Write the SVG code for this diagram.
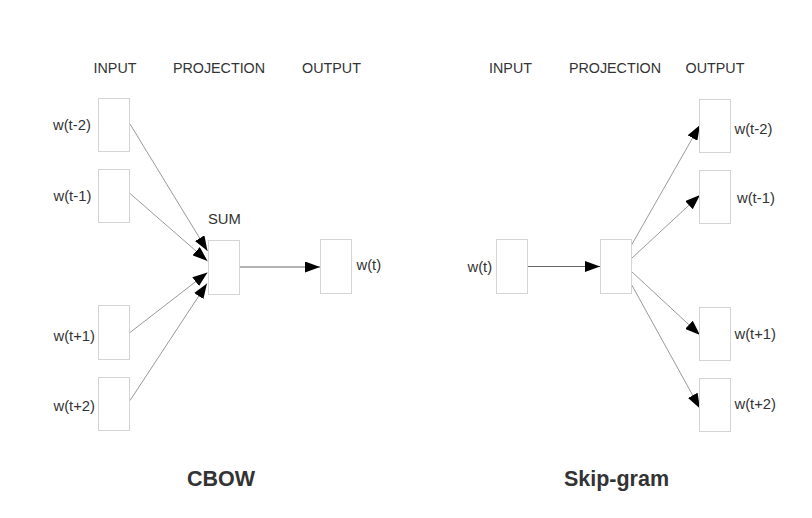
<svg xmlns="http://www.w3.org/2000/svg" width="812" height="518" viewBox="0 0 812 518">
<defs>
<marker id="ah" markerUnits="userSpaceOnUse" markerWidth="15" markerHeight="11" refX="15" refY="5.5" orient="auto">
<path d="M0,0 L15,5.5 L0,11 Z" fill="#000"/>
</marker>
<style>
.box{fill:#fff;stroke:#d4d4d4;stroke-width:1}
.lbl{font-family:"Liberation Sans",Arial,sans-serif;font-size:14.8px;fill:#333}
.hdr{font-family:"Liberation Sans",Arial,sans-serif;font-size:14.3px;fill:#333;text-anchor:middle}
.ttl{font-family:"Liberation Sans",Arial,sans-serif;font-size:21.5px;font-weight:bold;fill:#333;text-anchor:middle}
.diag{stroke:#9a9a9a;stroke-width:1;fill:none;marker-end:url(#ah)}
.hor{stroke:#666;stroke-width:1;fill:none;marker-end:url(#ah)}
</style>
</defs>
<rect width="812" height="518" fill="#fff"/>
<g id="headers">
<text class="hdr" x="115" y="72.5">INPUT</text>
<text class="hdr" x="219" y="72.5">PROJECTION</text>
<text class="hdr" x="331.5" y="72.5">OUTPUT</text>
<text class="hdr" x="510.5" y="72.5">INPUT</text>
<text class="hdr" x="615" y="72.5">PROJECTION</text>
<text class="hdr" x="715" y="72.5">OUTPUT</text>
</g>
<g id="connectors">
<line class="diag" x1="130" y1="124" x2="207.5" y2="251"/>
<line class="diag" x1="130" y1="193.5" x2="207.5" y2="261"/>
<line class="diag" x1="130" y1="332.5" x2="207.5" y2="272.5"/>
<line class="diag" x1="130" y1="400.5" x2="207" y2="283.5"/>
<line class="hor" x1="240" y1="267" x2="320" y2="267"/>
<line class="hor" x1="527" y1="266.5" x2="600" y2="266.5"/>
<line class="diag" x1="631.5" y1="245" x2="700" y2="125"/>
<line class="diag" x1="631.5" y1="258.5" x2="700" y2="195"/>
<line class="diag" x1="631.5" y1="271.5" x2="700" y2="335"/>
<line class="diag" x1="631.5" y1="284.5" x2="700" y2="408.5"/>
</g>
<g id="cbow-in-t-2"><rect class="box" x="98.5" y="98.5" width="31" height="53"/><text class="lbl" x="53" y="130">w(t-2)</text></g>
<g id="cbow-in-t-1"><rect class="box" x="98.5" y="169.5" width="31" height="53"/><text class="lbl" x="53.5" y="201">w(t-1)</text></g>
<g id="cbow-in-t+1"><rect class="box" x="98.5" y="305.5" width="31" height="54"/><text class="lbl" x="53.5" y="341">w(t+1)</text></g>
<g id="cbow-in-t+2"><rect class="box" x="98.5" y="377.5" width="31" height="53"/><text class="lbl" x="53.5" y="410.5">w(t+2)</text></g>
<g id="cbow-sum"><rect class="box" x="208.5" y="240.5" width="31" height="54"/><text class="lbl" x="208" y="224">SUM</text></g>
<g id="cbow-out"><rect class="box" x="320.5" y="239.5" width="31" height="54"/><text class="lbl" x="356.5" y="270">w(t)</text></g>
<g id="sg-in"><rect class="box" x="496.5" y="239.5" width="31" height="54"/><text class="lbl" x="467.5" y="272">w(t)</text></g>
<g id="sg-proj"><rect class="box" x="600.5" y="239.5" width="31" height="54"/></g>
<g id="sg-out-t-2"><rect class="box" x="699.5" y="99.5" width="31" height="53"/><text class="lbl" x="734.5" y="134">w(t-2)</text></g>
<g id="sg-out-t-1"><rect class="box" x="699.5" y="170.5" width="31" height="53"/><text class="lbl" x="737" y="203">w(t-1)</text></g>
<g id="sg-out-t+1"><rect class="box" x="699.5" y="307.5" width="31" height="53"/><text class="lbl" x="734.5" y="339">w(t+1)</text></g>
<g id="sg-out-t+2"><rect class="box" x="699.5" y="378.5" width="31" height="53"/><text class="lbl" x="734.5" y="408.5">w(t+2)</text></g>
<g id="titles">
<text class="ttl" x="221" y="486">CBOW</text>
<text class="ttl" x="616.5" y="485.5">Skip-gram</text>
</g>
</svg>
